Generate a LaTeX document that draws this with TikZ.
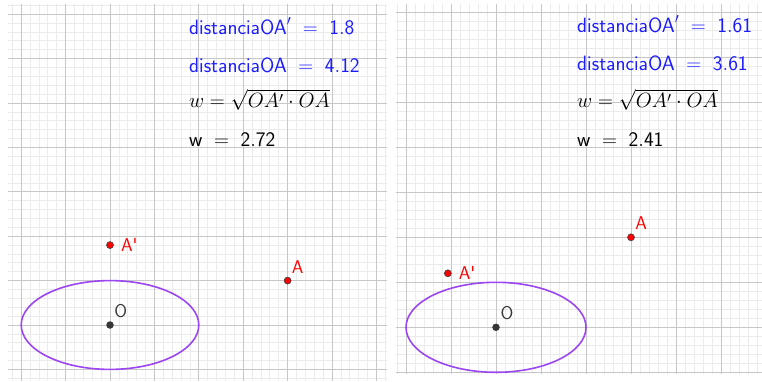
\RequirePackage{fix-cm}
\documentclass[tikz,border=0pt]{standalone}
\usepackage{amsmath}
\usepackage{xcolor}
\usetikzlibrary{positioning}

\definecolor{ggblue}{RGB}{28,28,255}
\definecolor{ggred}{RGB}{255,0,0}
\definecolor{ggviolet}{RGB}{155,70,240}
\definecolor{ggdark}{RGB}{55,55,55}

\begin{document}
\begin{tikzpicture}[x=1pt, y=1pt,
    minor/.style={draw=black!8, line width=0.7pt},
    major/.style={draw=black!22, line width=0.9pt},
    conic/.style={draw=ggviolet, line width=1.6pt},
    redpt/.style={circle, fill=ggred, draw=black!75, line width=0.6pt, inner sep=0pt, minimum size=7pt},
    origin/.style={circle, fill=ggdark, inner sep=0pt, minimum size=7.5pt},
    lbl/.style={font=\sffamily\fontsize{18.5}{18.5}\selectfont, inner sep=1pt},
    txt/.style={anchor=base west, inner sep=0pt, font=\fontsize{20.7}{20.7}\selectfont}]
    \useasboundingbox (0,0) rectangle (762,381);
    \fill[white] (0,0) rectangle (762,381);

    % left view
    \begin{scope}[shift={(110,56)}, x=44.4pt, y=44.4pt]
        \draw[minor, step=0.2] (-2.3,-1.26) grid (6.24,7.22);
        \draw[major, step=1] (-2.3,-1.26) grid (6.24,7.22);
        \node[origin] (O1) at (0,0) {};
        \node[redpt] (A1) at (4,1) {};
        \node[redpt] (B1) at (0,1.8) {};
        \draw[conic] (O1) ellipse [x radius=2, y radius=1];
        \node[lbl, text=ggdark, above right=3.5pt and 0.5pt of O1] {O};
        \node[lbl, text=ggred, above right=3.5pt and 0.5pt of A1] {A};
        \node[lbl, text=ggred, right=6pt of B1] {A\textquotesingle};
    \end{scope}

    % right view
    \begin{scope}[shift={(496,53.7)}, x=45pt, y=45pt]
        \draw[minor, step=0.2] (-2.22,-1.04) grid (5.91,7.18);
        \draw[major, step=1] (-2.22,-1.04) grid (5.91,7.18);
        \node[origin] (O2) at (0,0) {};
        \node[redpt] (A2) at (3,2) {};
        \node[redpt] (B2) at (-1.07,1.2) {};
        \draw[conic] (O2) ellipse [x radius=2, y radius=1];
        \node[lbl, text=ggdark, above right=3.5pt and 0.5pt of O2] {O};
        \node[lbl, text=ggred, above right=3.5pt and 0.5pt of A2] {A};
        \node[lbl, text=ggred, right=6pt of B2] {A\textquotesingle};
    \end{scope}

    % values, left
    \node[txt, text=ggblue] (dB1) at (189,346.7) {$\mathsf{distanciaOA}'\;=\;\mathsf{1.8}$};
    \node[txt, text=ggblue] (dA1) at (189,308.8) {$\mathsf{distanciaOA}\;=\;\mathsf{4.12}$};
    \node[txt] (f1) at (189,273) {$w=\smash[t]{\sqrt{OA'\cdot OA}}$};
    \node[txt] (w1) at (189,234.3) {$\mathsf{w}\;=\;\mathsf{2.72}$};

    % values, right
    \node[txt, text=ggblue] (dB2) at (577,348.3) {$\mathsf{distanciaOA}'\;=\;\mathsf{1.61}$};
    \node[txt, text=ggblue] (dA2) at (577,310.8) {$\mathsf{distanciaOA}\;=\;\mathsf{3.61}$};
    \node[txt] (f2) at (577,273) {$w=\smash[t]{\sqrt{OA'\cdot OA}}$};
    \node[txt] (w2) at (577,234.3) {$\mathsf{w}\;=\;\mathsf{2.41}$};
\end{tikzpicture}
\end{document}
